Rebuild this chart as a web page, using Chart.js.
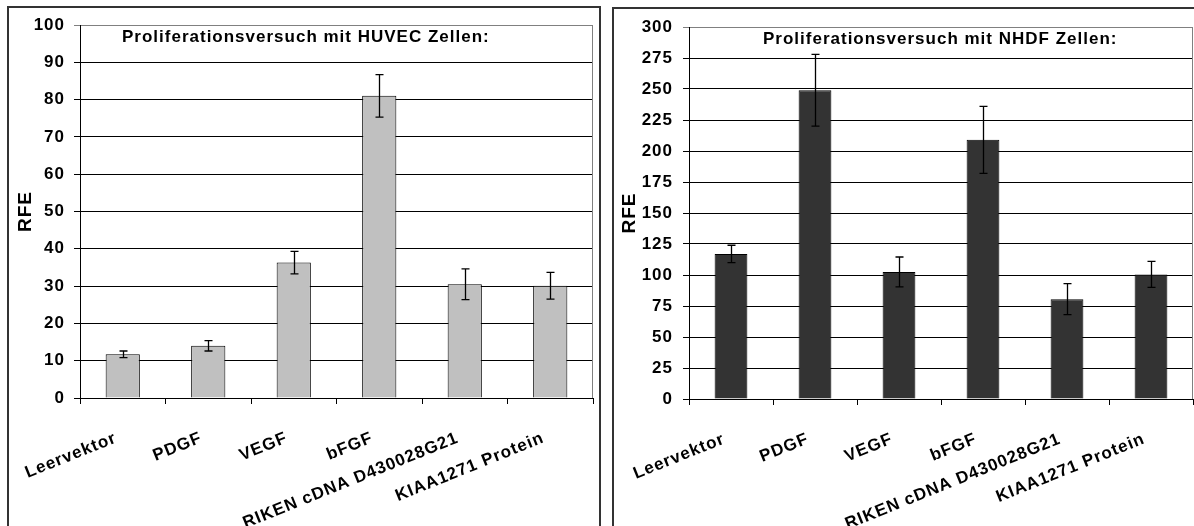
<!DOCTYPE html>
<html><head><meta charset="utf-8">
<script src="https://cdn.jsdelivr.net/npm/chart.js@4/dist/chart.umd.min.js"></script>
<style>
html,body{margin:0;padding:0;background:#fff;overflow:hidden;width:1194px;height:526px;}
.box{position:absolute;border:2px solid #333;box-sizing:border-box;background:#fff;overflow:hidden;}
#b1{left:7px;top:6px;width:594px;height:540px;}
#b2{left:612px;top:7px;width:600px;height:540px;}
canvas{display:block;}
</style></head><body>
<div class="box" id="b1"><canvas id="c1" width="590" height="520"></canvas></div>
<div class="box" id="b2"><canvas id="c2" width="596" height="520"></canvas></div>
<script>
const categories = ['Leervektor', 'PDGF', 'VEGF', 'bFGF', 'RIKEN cDNA D430028G21', 'KIAA1271 Protein'];
const huvecValues = [11.7, 14.0, 36.3, 81.0, 30.5, 30.1];
const huvecErrors = [0.9, 1.4, 3.0, 5.7, 4.1, 3.6];
const nhdfValues = [117, 249, 102.5, 209, 80.5, 100.5];
const nhdfErrors = [7, 29, 12, 27, 12.5, 10.5];
const huvecTickValues = [0, 10, 20, 30, 40, 50, 60, 70, 80, 90, 100];
const nhdfTickValues = [0, 25, 50, 75, 100, 125, 150, 175, 200, 225, 250, 275, 300];
const huvecTitle = 'Proliferationsversuch mit HUVEC Zellen:';
const nhdfTitle = 'Proliferationsversuch mit NHDF Zellen:';
const axisTitle = 'RFE';

const FONT = '"Liberation Sans", Arial, sans-serif';

const spacing = {
  id: 'spacing',
  beforeUpdate(chart) { chart.ctx.letterSpacing = '1px'; },
  beforeLayout(chart) { chart.ctx.letterSpacing = '1px'; },
  beforeDraw(chart) { chart.ctx.letterSpacing = '1px'; }
};

function decor(titleText, titleDx) {
  return {
    id: 'decor',
    afterDatasetsDraw(chart) {
      const ctx = chart.ctx, a = chart.chartArea, x = chart.scales.x, y = chart.scales.y;
      const ds = chart.data.datasets[0];
      const errs = ds.errors;
      ctx.save();
      ctx.strokeStyle = '#000';
      ctx.lineWidth = 1.3;
      ds.data.forEach((v, i) => {
        const px = Math.round(x.getPixelForValue(i)) + 0.5;
        const top = y.getPixelForValue(v + errs[i]);
        const bot = y.getPixelForValue(v - errs[i]);
        ctx.beginPath();
        ctx.moveTo(px, top); ctx.lineTo(px, bot);
        ctx.moveTo(px - 4, top); ctx.lineTo(px + 4, top);
        ctx.moveTo(px - 4, bot); ctx.lineTo(px + 4, bot);
        ctx.stroke();
      });
      ctx.strokeStyle = '#808080';
      ctx.lineWidth = 1;
      ctx.beginPath();
      ctx.moveTo(Math.round(a.right) - 0.5, a.top);
      ctx.lineTo(Math.round(a.right) - 0.5, a.bottom);
      ctx.stroke();
      ctx.letterSpacing = '1px';
      ctx.font = 'bold 17px ' + FONT;
      ctx.fillStyle = '#000';
      ctx.textAlign = 'left';
      ctx.textBaseline = 'middle';
      ctx.fillText(titleText, a.left + titleDx, a.top + 12);
      ctx.restore();
    }
  };
}

function makeChart(id, values, errors, color, tickVals, barPct, pad, yWidth, tickPad, title, titleDx, yTitlePad) {
  const maxV = tickVals[tickVals.length - 1];
  return new Chart(document.getElementById(id), {
    type: 'bar',
    data: {
      labels: categories,
      datasets: [{
        data: values, errors: errors,
        backgroundColor: color, borderColor: '#000', borderWidth: 1,
        barPercentage: barPct, categoryPercentage: 1
      }]
    },
    options: {
      responsive: false, animation: false, events: [],
      layout: { padding: pad },
      plugins: { legend: { display: false }, tooltip: { enabled: false } },
      scales: {
        x: {
          grid: { offset: true, drawOnChartArea: false, drawTicks: true, tickLength: 6, color: '#000' },
          border: { color: '#000', width: 1 },
          ticks: {
            autoSkip: false, maxRotation: 22, minRotation: 22, padding: 24, labelOffset: -7,
            color: '#000', font: { family: FONT, size: 17, weight: 'bold' }
          },
          afterFit(axis) { axis.height = 130; axis.paddingLeft = 0; axis.paddingRight = 0; }
        },
        y: {
          min: tickVals[0], max: maxV,
          afterBuildTicks(axis) { axis.ticks = tickVals.map(v => ({ value: v })); },
          grid: {
            color: c => (c.tick && c.tick.value === maxV) ? '#808080' : '#000',
            tickLength: 6, drawTicks: true
          },
          border: { color: '#000', width: 1 },
          ticks: { padding: tickPad, color: '#000', font: { family: FONT, size: 17, weight: 'bold' } },
          title: {
            display: true, text: axisTitle, color: '#000',
            font: { family: FONT, size: 19, weight: 'bold' },
            padding: { top: yTitlePad, bottom: 0 }
          },
          afterFit(axis) { axis.width = yWidth; axis.paddingTop = 0; axis.paddingBottom = 0; }
        }
      }
    },
    plugins: [spacing, decor(title, titleDx)]
  });
}

makeChart('c1', huvecValues, huvecErrors, '#C0C0C0', huvecTickValues, 0.4,
  { top: 17, right: 6, left: 0, bottom: 0 }, 71, 9, huvecTitle, 42, 5);
makeChart('c2', nhdfValues, nhdfErrors, '#333333', nhdfTickValues, 0.39,
  { top: 18, right: 17, left: 0, bottom: 0 }, 75, 10, nhdfTitle, 74, 4);
</script>
</body></html>
